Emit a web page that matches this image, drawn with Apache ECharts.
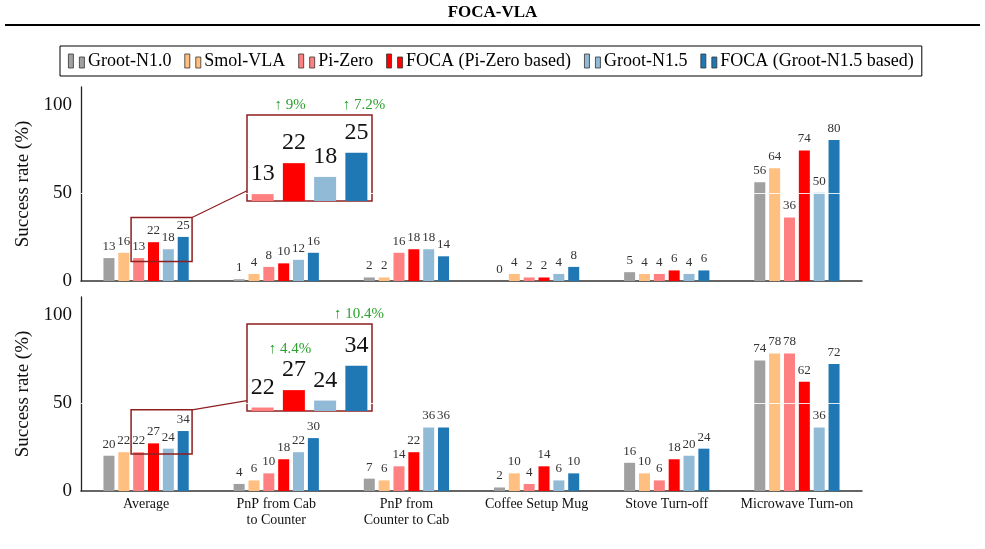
<!DOCTYPE html>
<html>
<head>
<meta charset="utf-8">
<script src="https://cdn.jsdelivr.net/npm/echarts@6/dist/echarts.min.js"></script>
<style>
  html, body { margin: 0; padding: 0; background: #fff; }
  #chart { width: 985px; height: 549px; }
</style>
</head>
<body>
<div id="chart"></div>
<script>
// categories and series values
const categories = ["Average", "PnP from Cab\nto Counter", "PnP from\nCounter to Cab", "Coffee Setup Mug", "Stove Turn-off", "Microwave Turn-on"];
const seriesNames = ["Groot-N1.0", "Smol-VLA", "Pi-Zero", "FOCA (Pi-Zero based)", "Groot-N1.5", "FOCA (Groot-N1.5 based)"];
const colors = ["#a0a0a0", "#ffbf80", "#ff8080", "#ff0000", "#91bad6", "#1f77b4"];

// top panel
const grootN10Top = [13, 1, 2, 0, 5, 56];
const smolTop = [16, 4, 2, 4, 4, 64];
const piZeroTop = [13, 8, 16, 2, 4, 36];
const focaPiTop = [22, 10, 18, 2, 6, 74];
const grootN15Top = [18, 12, 18, 4, 4, 50];
const focaGrTop = [25, 16, 14, 8, 6, 80];

// bottom panel
const grootN10Bot = [20, 4, 7, 2, 16, 74];
const smolBot = [22, 6, 6, 10, 10, 78];
const piZeroBot = [22, 10, 14, 4, 6, 78];
const focaPiBot = [27, 18, 22, 14, 18, 62];
const grootN15Bot = [24, 22, 36, 6, 20, 36];
const focaGrBot = [34, 30, 36, 10, 24, 72];

const yTicks = [0, 50, 100];
const topInsetRange = [11, 36];
const botInsetRange = [21, 46];
const topGains = ["↑ 9%", "↑ 7.2%"];
const botGains = ["↑ 4.4%", "↑ 10.4%"];

const topData = [grootN10Top, smolTop, piZeroTop, focaPiTop, grootN15Top, focaGrTop];
const botData = [grootN10Bot, smolBot, piZeroBot, focaPiBot, grootN15Bot, focaGrBot];

const serif = "Liberation Serif";
const boxColor = "#8e1f1f";

const chart = echarts.init(document.getElementById("chart"));

const makeBars = (data, axisIdx) =>
  data.map((vals, i) => ({
    name: seriesNames[i],
    type: "bar",
    xAxisIndex: axisIdx,
    yAxisIndex: axisIdx,
    data: vals,
    barWidth: 11,
    barGap: "35%",
    itemStyle: { color: colors[i] },
    label: {
      show: true,
      position: "top",
      distance: 5,
      fontFamily: serif,
      fontSize: 13,
      color: "#333",
    },
  }));

const whiteLine = (axisIdx) => ({
  type: "line",
  xAxisIndex: axisIdx,
  yAxisIndex: axisIdx,
  data: [],
  z: 10,
  markLine: {
    silent: true,
    symbol: "none",
    label: { show: false },
    lineStyle: { color: "rgba(255,255,255,0.85)", width: 1.2, type: "solid" },
    data: [{ yAxis: 50 }],
  },
});

const makeInset = (data, axisIdx) => ({
  type: "bar",
  xAxisIndex: axisIdx,
  yAxisIndex: axisIdx,
  barWidth: 22,
  data: [2, 3, 4, 5].map((s) => ({ value: data[s][0], itemStyle: { color: colors[s] } })),
  label: {
    show: true,
    position: "top",
    distance: 8,
    fontFamily: serif,
    fontSize: 24,
    color: "#111",
  },
});

const mainY = () => ({
  type: "value",
  min: 0,
  max: 110,
  interval: 50,
  name: "Success rate (%)",
  nameLocation: "middle",
  nameGap: 48,
  nameTextStyle: { fontFamily: serif, fontSize: 19, color: "#111" },
  axisLine: { show: true, lineStyle: { color: "#222", width: 1.3 } },
  axisTick: { show: false },
  splitLine: { show: false },
  axisLabel: {
    fontFamily: serif,
    fontSize: 19,
    color: "#111",
    margin: 9,
    formatter: (v) => (yTicks.includes(v) ? String(v) : ""),
  },
});

const mainX = (showLabels) => ({
  type: "category",
  data: categories,
  axisLine: { show: true, onZero: false, lineStyle: { color: "#333", width: 1.5 } },
  axisTick: { show: false },
  axisLabel: {
    show: showLabels,
    interval: 0,
    fontFamily: serif,
    fontSize: 14,
    lineHeight: 16,
    color: "#111",
    margin: 5,
  },
});

const insetX = {
  type: "category",
  data: seriesNames.slice(2),
  show: false,
};
const insetY = (r) => ({
  type: "value",
  min: r[0],
  max: r[1],
  show: false,
  splitLine: { show: false },
});

const option = {
  animation: false,
  backgroundColor: "#fff",
  title: {
    text: "FOCA-VLA",
    left: "center",
    top: 0,
    padding: [4, 5],
    textStyle: { fontFamily: serif, fontSize: 17, fontWeight: "bold", color: "#000" },
  },
  legend: {
    data: seriesNames,
    left: 60,
    top: 46,
    padding: [6, 8, 6, 8],
    borderColor: "#000",
    borderWidth: 1,
    itemGap: 13,
    itemWidth: 17,
    itemHeight: 14,
    icon: "path://M0,0H5V14H0Z M11,3H16V14H11Z",
    itemStyle: { borderColor: "#333", borderWidth: 0.8 },
    textStyle: { fontFamily: serif, fontSize: 18, color: "#000", padding: [0, 0, 0, -2] },
  },
  grid: [
    { left: 81, top: 87, width: 781, height: 194 },
    { left: 81, top: 297, width: 781, height: 194 },
    { left: 247, top: 115, width: 125, height: 86, show: true, borderColor: boxColor, borderWidth: 1.5, backgroundColor: "#fff", z: 4 },
    { left: 247, top: 324, width: 125, height: 87, show: true, borderColor: boxColor, borderWidth: 1.5, backgroundColor: "#fff", z: 4 },
  ],
  xAxis: [
    { gridIndex: 0, ...mainX(false) },
    { gridIndex: 1, ...mainX(true) },
    { gridIndex: 2, ...insetX },
    { gridIndex: 3, ...insetX },
  ],
  yAxis: [
    { gridIndex: 0, ...mainY() },
    { gridIndex: 1, ...mainY() },
    { gridIndex: 2, ...insetY(topInsetRange) },
    { gridIndex: 3, ...insetY(botInsetRange) },
  ],
  series: [
    ...makeBars(topData, 0),
    ...makeBars(botData, 1),
    whiteLine(0),
    whiteLine(1),
    { ...makeInset(topData, 2), z: 5 },
    { ...makeInset(botData, 3), z: 5 },
  ],
};

chart.setOption(option);

// zoom boxes around the Average group, linked to the insets
const zoomGraphics = (axisIdx, range, inset) => {
  const lo = chart.convertToPixel({ xAxisIndex: axisIdx, yAxisIndex: axisIdx }, [0, range[0]]);
  const hi = chart.convertToPixel({ xAxisIndex: axisIdx, yAxisIndex: axisIdx }, [0, range[1]]);
  const x0 = lo[0] - 15;
  const x1 = lo[0] + 46;
  return [
    {
      type: "rect",
      shape: { x: x0, y: hi[1], width: x1 - x0, height: lo[1] - hi[1] },
      style: { fill: "none", stroke: boxColor, lineWidth: 1.5 },
      z: 20,
    },
    {
      type: "line",
      shape: { x1: x1, y1: hi[1], x2: inset.left, y2: inset.top + inset.height * 0.88 },
      style: { stroke: boxColor, lineWidth: 1.2 },
      z: 20,
    },
  ];
};

const gainText = (x, y, text) => ({
  type: "text",
  x: x,
  y: y,
  z: 20,
  style: { text: text, font: "15px " + serif, fill: "#2ca02c", align: "center", verticalAlign: "middle" },
});

const g = option.grid;
chart.setOption({
  graphic: [
    { type: "line", shape: { x1: 5, y1: 25, x2: 980, y2: 25 }, style: { stroke: "#000", lineWidth: 2 } },
    ...zoomGraphics(0, topInsetRange, g[2]),
    ...zoomGraphics(1, botInsetRange, g[3]),
    gainText(290, 105, topGains[0]),
    gainText(364, 105, topGains[1]),
    gainText(290, 349, botGains[0]),
    gainText(359, 314, botGains[1]),
  ],
});
</script>
</body>
</html>
